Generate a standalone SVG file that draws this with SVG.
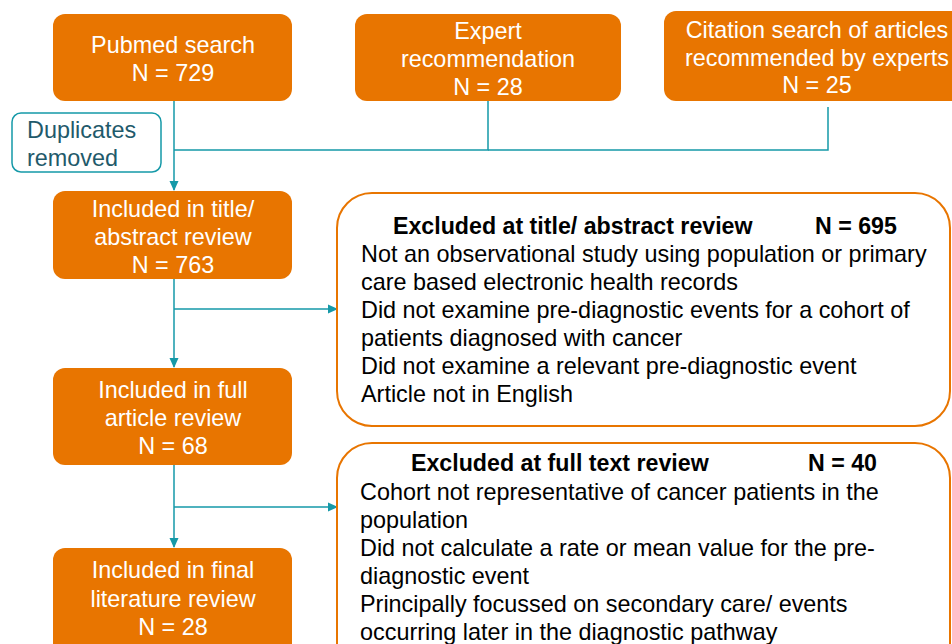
<svg xmlns="http://www.w3.org/2000/svg" width="952" height="644" viewBox="0 0 952 644">
<defs>
<style>
.ob{fill:#E87500;stroke:none}
.ot{fill:#fff;font-family:"Liberation Sans",Arial,sans-serif;font-size:23.4px;text-anchor:middle}
.ex{fill:#fff;stroke:#E87500;stroke-width:2}
.et{fill:#000;font-family:"Liberation Sans",Arial,sans-serif;font-size:23.4px}
.eh{font-weight:bold;font-size:23.2px}
.ln{fill:none;stroke:#1599A8;stroke-width:1.5}
</style>
<marker id="ah" markerWidth="10" markerHeight="10" refX="9" refY="5" orient="auto" markerUnits="userSpaceOnUse">
<path d="M0,0.5 L10,5 L0,9.5 Z" fill="#1599A8"/>
</marker>
</defs>
<g id="connectors">
<line class="ln" x1="174" y1="101" x2="174" y2="190" marker-end="url(#ah)"/>
<polyline class="ln" points="488,101 488,150 174,150"/>
<polyline class="ln" points="828,107 828,150 488,150"/>
<line class="ln" x1="174" y1="279" x2="174" y2="367" marker-end="url(#ah)"/>
<line class="ln" x1="174" y1="309" x2="337" y2="309" marker-end="url(#ah)"/>
<line class="ln" x1="174" y1="465" x2="174" y2="547" marker-end="url(#ah)"/>
<line class="ln" x1="174" y1="507" x2="337" y2="507" marker-end="url(#ah)"/>
</g>
<g id="pubmed">
<rect class="ob" x="53" y="14" width="239" height="87" rx="12"/>
<text class="ot" x="173" y="53">Pubmed search</text>
<text class="ot" x="173" y="81">N = 729</text>
</g>
<g id="expert">
<rect class="ob" x="355" y="14" width="266" height="87" rx="12"/>
<text class="ot" x="488" y="39">Expert</text>
<text class="ot" x="488" y="67">recommendation</text>
<text class="ot" x="488" y="95">N = 28</text>
</g>
<g id="citation">
<rect class="ob" x="664" y="11" width="300" height="90" rx="12"/>
<text class="ot" x="817" y="38">Citation search of articles</text>
<text class="ot" x="817" y="66">recommended by experts</text>
<text class="ot" x="817" y="93">N = 25</text>
</g>
<g id="duplicates">
<rect x="12" y="113" width="149" height="59" rx="9" fill="#fff" stroke="#1599A8" stroke-width="1.5"/>
<text x="27" y="138" font-family="Liberation Sans, Arial, sans-serif" font-size="23.4" fill="#1F5A6B">Duplicates</text>
<text x="27" y="166" font-family="Liberation Sans, Arial, sans-serif" font-size="23.4" fill="#1F5A6B">removed</text>
</g>
<g id="title-abstract">
<rect class="ob" x="53" y="191" width="239" height="88" rx="12"/>
<text class="ot" x="173" y="217">Included in title/</text>
<text class="ot" x="173" y="245">abstract review</text>
<text class="ot" x="173" y="273">N = 763</text>
</g>
<g id="full-article">
<rect class="ob" x="53" y="368" width="239" height="97" rx="12"/>
<text class="ot" x="173" y="398">Included in full</text>
<text class="ot" x="173" y="426">article review</text>
<text class="ot" x="173" y="454">N = 68</text>
</g>
<g id="final">
<rect class="ob" x="53" y="548" width="239" height="110" rx="12"/>
<text class="ot" x="173" y="578">Included in final</text>
<text class="ot" x="173" y="607">literature review</text>
<text class="ot" x="173" y="635">N = 28</text>
</g>
<g id="excluded-title">
<rect class="ex" x="337" y="193" width="613" height="233" rx="35"/>
<text class="et eh" x="393" y="234">Excluded at title/ abstract review</text>
<text class="et eh" x="815" y="234">N = 695</text>
<text class="et" x="361" y="262">Not an observational study using population or primary</text>
<text class="et" x="361" y="290">care based electronic health records</text>
<text class="et" x="361" y="318">Did not examine pre-diagnostic events for a cohort of</text>
<text class="et" x="361" y="346">patients diagnosed with cancer</text>
<text class="et" x="361" y="374">Did not examine a relevant pre-diagnostic event</text>
<text class="et" x="361" y="402">Article not in English</text>
</g>
<g id="excluded-full">
<rect class="ex" x="337" y="443" width="613" height="240" rx="35"/>
<text class="et eh" x="411" y="471">Excluded at full text review</text>
<text class="et eh" x="808" y="471">N = 40</text>
<text class="et" x="360" y="500">Cohort not representative of cancer patients in the</text>
<text class="et" x="360" y="528">population</text>
<text class="et" x="360" y="556">Did not calculate a rate or mean value for the pre-</text>
<text class="et" x="360" y="584">diagnostic event</text>
<text class="et" x="360" y="612">Principally focussed on secondary care/ events</text>
<text class="et" x="360" y="640">occurring later in the diagnostic pathway</text>
</g>
</svg>
